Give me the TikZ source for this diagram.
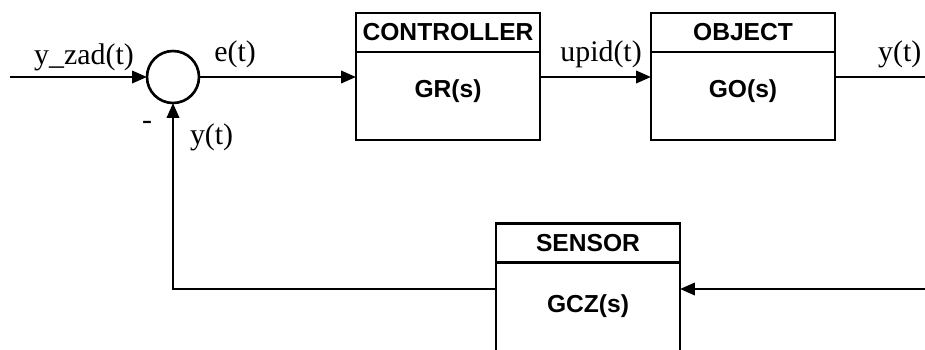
\documentclass[tikz,border=0pt]{standalone}
\usepackage{fontspec}
\setmainfont{Liberation Serif}
\setsansfont{Liberation Sans}
\usetikzlibrary{positioning,arrows.meta}

\begin{document}
\begin{tikzpicture}[inner sep=0pt,outer sep=0pt,line width=1.5pt,
>={Triangle[length=8.5pt,width=7pt]},
sig/.style={font=\fontsize{17}{20}\selectfont},
headblock/.style={draw,rectangle,minimum width=3.68cm,minimum height=0.78cm,font=\sffamily\bfseries\fontsize{14}{16}\selectfont},
bodyblock/.style={draw,rectangle,minimum width=3.68cm,minimum height=1.76cm,text height=0.3cm,text depth=0.26cm,font=\sffamily\bfseries\fontsize{14}{16}\selectfont}]

\clip (0,0) rectangle (18.5,-6.98);

\draw (3.46,-1.54) node[draw,circle,minimum size=1.04cm] (sum1) {};
\draw (8.96,-0.65) node[headblock] (ctrlhead) {CONTROLLER};
\node[bodyblock,below=0pt of ctrlhead] (ctrl) {GR(s)};
\node[headblock,right=2.22cm of ctrlhead] (objhead) {OBJECT};
\node[bodyblock,below=0pt of objhead] (obj) {GO(s)};
\draw (11.76,-4.86) node[headblock] (senshead) {SENSOR};
\node[bodyblock,below=0pt of senshead,minimum height=1.96cm] (sens) {GCZ(s)};

\coordinate (in) at (0.2,-1.54);
\coordinate (out) at (18.5,-1.54);
\coordinate (fb) at (18.5,-5.78);

\draw[->] (in) -- node[sig,above=3.5pt,pos=.54] {y\_zad(t)} (sum1.west);
\draw[->] (sum1.east) -- node[sig,above=5pt,pos=.23] {e(t)} (sum1.east -| ctrl.west);
\draw[->] (ctrl.east |- sum1) -- node[sig,above=5pt,pos=.55] {upid(t)} (sum1 -| obj.west);
\draw (obj.east |- sum1) -- node[sig,above=5pt,pos=.72] {y(t)} (out);
\draw[->] (fb) -- (fb -| sens.east);
\draw[->] (fb -| sens.west) -| (sum1.south)
  node[sig,below left=0.36cm and 0.42cm] {-}
  node[sig,below right=0.42cm and 0.34cm] {y(t)};
\end{tikzpicture}
\end{document}
